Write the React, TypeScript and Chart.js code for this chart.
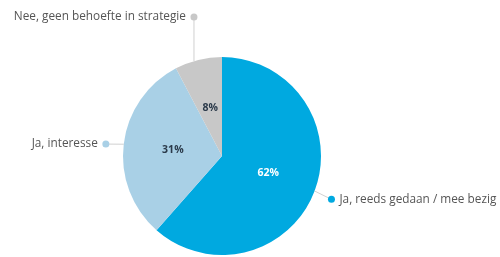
import React, { useEffect, useRef } from "react";
import { Chart, registerables } from "chart.js";

Chart.register(...registerables);

const categories = [
  "Ja, reeds gedaan / mee bezig",
  "Ja, interesse",
  "Nee, geen behoefte in strategie",
];
const values = [61.5, 30.8, 7.7];
const colors = ["#00a9e0", "#a9d0e6", "#c8c8c8"];
const valueLabelColors = ["#ffffff", "#2b3a4a", "#2b3a4a"];

const FONT = "'Open Sans', Lato, sans-serif";

const labelPlugin = {
  id: "pieLabels",
  afterDatasetsDraw(chart: any) {
    const ctx = chart.ctx as CanvasRenderingContext2D;
    const meta = chart.getDatasetMeta(0);
    const data = chart.data.datasets[0].data as number[];
    const total = data.reduce((a, b) => a + b, 0);
    ctx.save();
    meta.data.forEach((arc: any, i: number) => {
      const { x, y, startAngle, endAngle, outerRadius } = arc.getProps(
        ["x", "y", "startAngle", "endAngle", "outerRadius"],
        true
      );
      const mid = (startAngle + endAngle) / 2;
      const cos = Math.cos(mid);
      const sin = Math.sin(mid);

      // value label inside
      const pos = arc.tooltipPosition(true);
      ctx.font = `bold 10.5px ${FONT}`;
      ctx.fillStyle = valueLabelColors[i];
      ctx.textAlign = "center";
      ctx.textBaseline = "middle";
      ctx.fillText(Math.round((data[i] / total) * 100) + "%", pos.x, pos.y);

      // outside label with dot and connector
      const dist = outerRadius + 18;
      let lx = x + cos * dist;
      let ly = y + sin * dist + 2;
      const ex = x + cos * outerRadius;
      let ey = y + sin * outerRadius;
      const topRow = 17;
      ctx.strokeStyle = "#d0d0d0";
      ctx.lineWidth = 1;
      ctx.beginPath();
      if (sin < -0.9) {
        // labels above the pie are pushed to the top row, vertical connector
        ly = topRow;
        ey = y - Math.sqrt(Math.max(outerRadius * outerRadius - (lx - x) * (lx - x), 0));
        ctx.moveTo(lx, ly);
        ctx.lineTo(lx, ey);
      } else {
        ctx.moveTo(lx, ly);
        ctx.lineTo(ex, ey);
      }
      ctx.stroke();

      ctx.fillStyle = colors[i];
      ctx.beginPath();
      ctx.arc(lx, ly, 3.5, 0, Math.PI * 2);
      ctx.fill();

      ctx.font = `11.8px ${FONT}`;
      ctx.fillStyle = "#555555";
      ctx.textBaseline = "middle";
      if (cos < 0) {
        ctx.textAlign = "right";
        ctx.fillText(categories[i], lx - 8, ly);
      } else {
        ctx.textAlign = "left";
        ctx.fillText(categories[i], lx + 8, ly);
      }
    });
    ctx.restore();
  },
};

export default function App() {
  const ref = useRef<HTMLCanvasElement | null>(null);
  useEffect(() => {
    document.body.style.margin = "0";
    const chart = new Chart(ref.current as HTMLCanvasElement, {
      type: "pie",
      data: {
        labels: categories,
        datasets: [
          {
            data: values,
            backgroundColor: colors,
            borderWidth: 0,
          },
        ],
      },
      options: {
        responsive: false,
        animation: false,
        layout: { padding: { top: 57, bottom: 2, left: 123, right: 179 } },
        plugins: {
          legend: { display: false },
          tooltip: { enabled: false },
        },
      },
      plugins: [labelPlugin],
    });
    return () => chart.destroy();
  }, []);
  return (
    <div style={{ width: 500, height: 257, background: "#fff" }}>
      <canvas ref={ref} width={500} height={257} style={{ display: "block" }} />
    </div>
  );
}
